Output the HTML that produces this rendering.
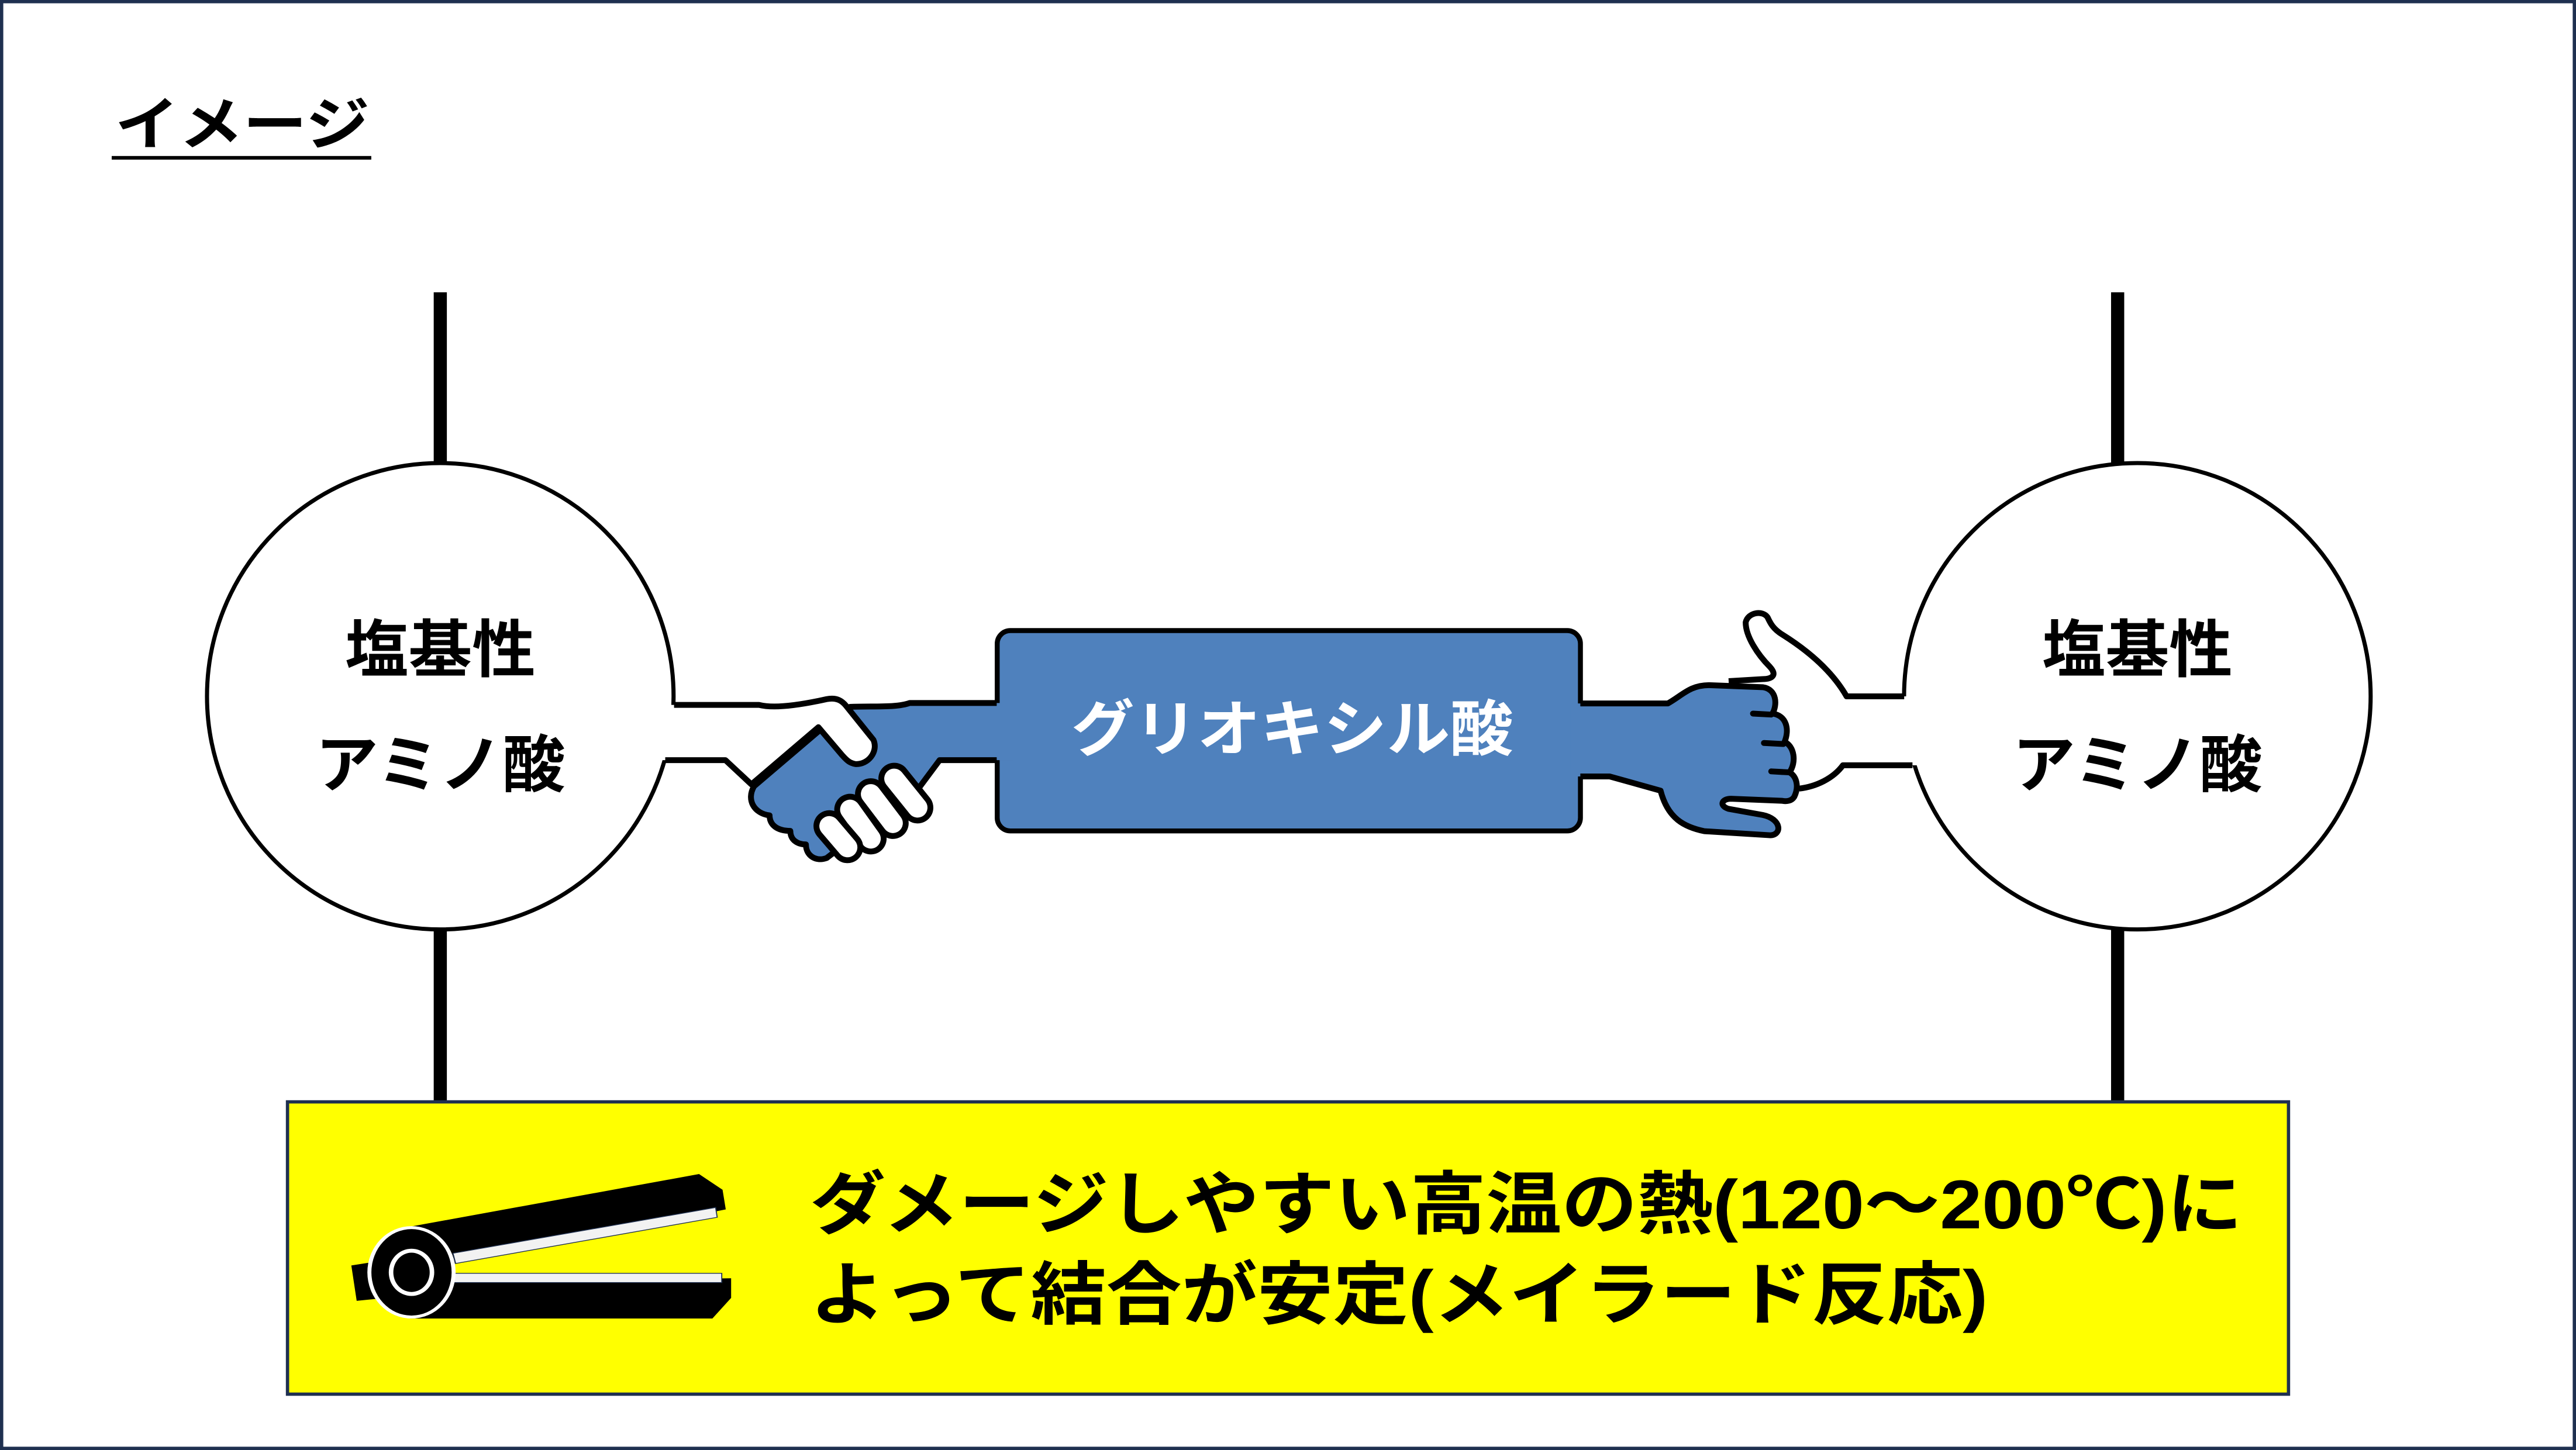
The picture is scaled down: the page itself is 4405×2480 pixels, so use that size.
<!DOCTYPE html>
<html><head><meta charset="utf-8"><style>
html,body{margin:0;padding:0;background:#fff;}
svg{display:block;}
text{font-family:"Liberation Sans","Noto Sans CJK JP",sans-serif;font-weight:bold;}
</style></head><body>
<svg width="4405" height="2480" viewBox="0 0 1568 883" preserveAspectRatio="none" xmlns="http://www.w3.org/2000/svg">
<rect x="1" y="1" width="1566" height="881" fill="#fff" stroke="#1f3050" stroke-width="2"/>
<text x="70" y="88" font-size="35" textLength="155" lengthAdjust="spacingAndGlyphs">イメージ</text>
<rect x="68" y="95" width="158" height="2.2" fill="#000"/>

<rect x="264" y="178" width="8" height="106" fill="#000"/>
<rect x="264" y="563" width="8" height="109" fill="#000"/>
<rect x="1285" y="178" width="8" height="106" fill="#000"/>
<rect x="1285" y="563" width="8" height="109" fill="#000"/>

<circle cx="268" cy="424" r="142" fill="#fff" stroke="#000" stroke-width="2.5"/>
<circle cx="1301" cy="424" r="142" fill="#fff" stroke="#000" stroke-width="2.5"/>
<text x="210" y="409" font-size="38" textLength="116" lengthAdjust="spacingAndGlyphs">塩基性</text>
<text x="192" y="479" font-size="38" textLength="152" lengthAdjust="spacingAndGlyphs">アミノ酸</text>
<text x="1243" y="409" font-size="38" textLength="116" lengthAdjust="spacingAndGlyphs">塩基性</text>
<text x="1225" y="479" font-size="38" textLength="152" lengthAdjust="spacingAndGlyphs">アミノ酸</text>

<rect x="607" y="384" width="355" height="122" rx="8" fill="#4f81bd" stroke="#000" stroke-width="3"/>
<text x="652" y="457" font-size="37" fill="#fff" textLength="269" lengthAdjust="spacingAndGlyphs">グリオキシル酸</text>

<g transform="matrix(0.158 0 0 0.118 392.6 375)">
  <path d="M1420,450 L1020,450 C970,475 880,465 790,470 L700,560 L420,880 C390,950 420,1020 480,1030 C480,1080 510,1110 560,1110 C560,1160 590,1180 620,1180 C620,1240 660,1270 700,1250 L1060,880 L1135,745 L1420,745 Z" fill="#4f81bd"/>
  <path d="M1355,450 L1020,450 C970,475 880,465 790,470 L700,560 L420,880 C390,950 420,1020 480,1030 C480,1080 510,1110 560,1110 C560,1160 590,1180 620,1180 C620,1240 660,1270 700,1250 L1060,880 L1135,745 L1355,745" fill="none" stroke="#000" stroke-width="10" vector-effect="non-scaling-stroke" stroke-linejoin="round"/>
  <path d="M50,460 L440,460 C500,480 600,460 700,430 C740,420 760,440 775,465 L880,640 C900,700 860,770 810,765 C790,760 780,750 760,720 L668,575 L410,870 L310,745 L40,745 Z" fill="#fff"/>
  <path d="M112,460 L440,460 C500,480 600,460 700,430 C740,420 760,440 775,465 L880,640 C900,700 860,770 810,765 C790,760 780,750 760,720 L668,575 L410,870 L310,745 L78,745" fill="none" stroke="#000" stroke-width="10" vector-effect="non-scaling-stroke" stroke-linejoin="round"/>
  <line x1="960" y1="840" x2="1050" y2="990" stroke="#000" stroke-width="54" vector-effect="non-scaling-stroke" stroke-linecap="round"/>
  <line x1="960" y1="840" x2="1050" y2="990" stroke="#fff" stroke-width="34" vector-effect="non-scaling-stroke" stroke-linecap="round"/>
  <line x1="870" y1="920" x2="955" y2="1070" stroke="#000" stroke-width="54" vector-effect="non-scaling-stroke" stroke-linecap="round"/>
  <line x1="870" y1="920" x2="955" y2="1070" stroke="#fff" stroke-width="34" vector-effect="non-scaling-stroke" stroke-linecap="round"/>
  <line x1="790" y1="1000" x2="870" y2="1150" stroke="#000" stroke-width="54" vector-effect="non-scaling-stroke" stroke-linecap="round"/>
  <line x1="790" y1="1000" x2="870" y2="1150" stroke="#fff" stroke-width="34" vector-effect="non-scaling-stroke" stroke-linecap="round"/>
  <line x1="710" y1="1085" x2="780" y2="1195" stroke="#000" stroke-width="54" vector-effect="non-scaling-stroke" stroke-linecap="round"/>
  <line x1="710" y1="1085" x2="780" y2="1195" stroke="#fff" stroke-width="34" vector-effect="non-scaling-stroke" stroke-linecap="round"/>
</g>

<g transform="matrix(0.148 0 0 0.1235 942.7 355.5)">
  <path d="M1520,555 L1225,555 C1170,440 1080,340 960,250 C920,220 910,190 900,165 C880,130 820,140 810,190 C810,260 860,350 910,410 C940,450 920,470 880,470 L740,480 L700,800 L1030,1010 C1100,1000 1170,960 1210,895 L1530,895 Z" fill="#fff"/>
  <path d="M1462,555 L1225,555 C1170,440 1080,340 960,250 C920,220 910,190 900,165 C880,130 820,140 810,190 C810,260 860,350 910,410 C940,450 920,470 880,470 L740,480" fill="none" stroke="#000" stroke-width="10" vector-effect="non-scaling-stroke" stroke-linejoin="round"/>
  <path d="M1030,1010 C1100,1000 1170,960 1210,895 L1496,895" fill="none" stroke="#000" stroke-width="10" vector-effect="non-scaling-stroke" stroke-linejoin="round"/>
  <path d="M90,590 L490,590 C550,550 580,500 660,500 L880,510 C940,520 940,600 920,640 C980,650 990,720 970,780 C1010,800 1020,880 990,930 C1020,950 1030,1000 1010,1050 C1000,1070 980,1075 960,1070 L750,1060 C710,1060 700,1095 740,1110 L880,1140 C960,1160 960,1240 910,1240 L640,1220 C560,1200 490,1160 460,1020 L250,950 L90,950 Z" fill="#4f81bd"/>
  <path d="M130,590 L490,590 C550,550 580,500 660,500 L880,510 C940,520 940,600 920,640 C980,650 990,720 970,780 C1010,800 1020,880 990,930 C1020,950 1030,1000 1010,1050 C1000,1070 980,1075 960,1070 L750,1060 C710,1060 700,1095 740,1110 L880,1140 C960,1160 960,1240 910,1240 L640,1220 C560,1200 490,1160 460,1020 L250,950 L130,950" fill="none" stroke="#000" stroke-width="10" vector-effect="non-scaling-stroke" stroke-linejoin="round"/>
  <line x1="840" y1="640" x2="915" y2="645" stroke="#000" stroke-width="10" stroke-linecap="round" vector-effect="non-scaling-stroke"/>
  <line x1="885" y1="785" x2="965" y2="790" stroke="#000" stroke-width="10" stroke-linecap="round" vector-effect="non-scaling-stroke"/>
  <line x1="915" y1="925" x2="990" y2="930" stroke="#000" stroke-width="10" stroke-linecap="round" vector-effect="non-scaling-stroke"/>
</g>

<rect x="175" y="671" width="1218" height="178" fill="#ffff00" stroke="#1f3050" stroke-width="2"/>
<text x="493" y="748" font-size="42" textLength="872" lengthAdjust="spacingAndGlyphs">ダメージしやすい高温の熱(120～200℃)に</text>
<text x="493" y="803" font-size="42" textLength="717" lengthAdjust="spacingAndGlyphs">よって結合が安定(メイラード反応)</text>

<g transform="matrix(0.1628 0 0 0.1197 199.2 697.6)">
  <path d="M90,610 L300,565 L330,760 L110,790 Z" fill="#000"/>
  <path d="M280,420 L1390,145 L1478,225 L1490,325 L480,600 L300,640 Z" fill="#000"/>
  <path d="M470,548 L1452,315 L1458,365 L480,600 Z" fill="#f2f2f2" stroke="#1f3050" stroke-width="4"/>
  <path d="M300,700 L1510,675 L1510,775 L1440,880 L310,880 Z" fill="#000"/>
  <rect x="470" y="650" width="1005" height="47" fill="#f2f2f2" stroke="#1f3050" stroke-width="4"/>
  <ellipse cx="315" cy="645" rx="165" ry="235" fill="#fff"/>
  <ellipse cx="315" cy="645" rx="150" ry="220" fill="#000"/>
  <ellipse cx="315" cy="645" rx="85" ry="120" fill="#fff"/>
  <ellipse cx="315" cy="645" rx="68" ry="100" fill="#000"/>
</g>
</svg>
</body></html>
